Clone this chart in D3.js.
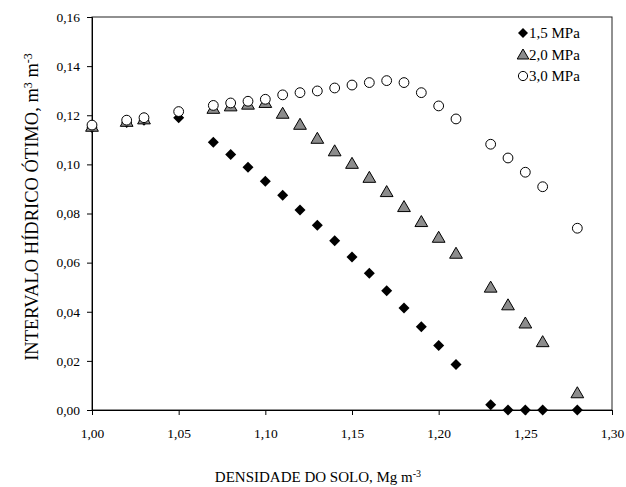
<!DOCTYPE html>
<html>
<head>
<meta charset="utf-8">
<script src="https://cdn.jsdelivr.net/npm/d3@7"></script>
<style>
  body { margin: 0; background: #fff; }
  svg text { font-family: "Liberation Serif", "Times New Roman", serif; fill: #000; }
</style>
</head>
<body>
<svg id="chart" width="626" height="487"></svg>
<script>
// densidade do solo (Mg m-3) de cada ponto
const dens15 = [1.00, 1.02, 1.03, 1.05, 1.07, 1.08, 1.09, 1.10, 1.11, 1.12, 1.13, 1.14, 1.15, 1.16, 1.17, 1.18, 1.19, 1.20, 1.21, 1.23, 1.24, 1.25, 1.26, 1.28];
const iho15 = [0.115, 0.117, 0.118, 0.119, 0.109, 0.104, 0.0988, 0.0931, 0.0874, 0.0814, 0.0752, 0.0689, 0.0623, 0.0557, 0.0486, 0.0415, 0.0339, 0.0263, 0.0185, 0.0021, 0, 0, 0, 0];

const dens20 = [1.00, 1.02, 1.03, 1.07, 1.08, 1.09, 1.10, 1.11, 1.12, 1.13, 1.14, 1.15, 1.16, 1.17, 1.18, 1.19, 1.20, 1.21, 1.23, 1.24, 1.25, 1.26, 1.28];
const iho20 = [0.1155, 0.1175, 0.1185, 0.1228, 0.1238, 0.1245, 0.1252, 0.1208, 0.1163, 0.1106, 0.1055, 0.1004, 0.0947, 0.0889, 0.0828, 0.0767, 0.0703, 0.0638, 0.0500, 0.0428, 0.0354, 0.0278, 0.0070];

const dens30 = [1.00, 1.02, 1.03, 1.05, 1.07, 1.08, 1.09, 1.10, 1.11, 1.12, 1.13, 1.14, 1.15, 1.16, 1.17, 1.18, 1.19, 1.20, 1.21, 1.23, 1.24, 1.25, 1.26, 1.28];
const iho30 = [0.116, 0.118, 0.119, 0.1215, 0.124, 0.125, 0.1257, 0.1265, 0.1283, 0.1292, 0.1299, 0.1311, 0.1323, 0.1333, 0.1341, 0.1333, 0.1292, 0.1238, 0.1185, 0.1082, 0.1026, 0.0968, 0.0909, 0.0740];

const xTicks = [1.00, 1.05, 1.10, 1.15, 1.20, 1.25, 1.30];
const yTicks = [0, 0.02, 0.04, 0.06, 0.08, 0.10, 0.12, 0.14, 0.16];
const seriesNames = ['1,5 MPa', '2,0 MPa', '3,0 MPa'];

const fmt = d => d.toFixed(2).replace('.', ',');

const svg = d3.select('#chart');
const plotL = 92, plotR = 612, plotT = 17, plotB = 410;

const x = d3.scaleLinear().domain([1.0, 1.3]).range([plotL, plotR]);
const y = d3.scaleLinear().domain([0, 0.16]).range([plotB, plotT]);

// moldura
svg.append('rect')
  .attr('x', plotL).attr('y', plotT)
  .attr('width', plotR - plotL).attr('height', plotB - plotT)
  .attr('fill', 'none').attr('stroke', '#222').attr('stroke-width', 1);

// eixos
const xAxis = svg.append('g')
  .attr('transform', `translate(0,${plotB})`)
  .call(d3.axisBottom(x).tickValues(xTicks).tickFormat(fmt).tickSize(5).tickPadding(13));
const yAxis = svg.append('g')
  .attr('transform', `translate(${plotL},0)`)
  .call(d3.axisLeft(y).tickValues(yTicks).tickFormat(fmt).tickSize(5).tickPadding(7));

[xAxis, yAxis].forEach(a => {
  a.select('.domain').attr('stroke', '#000');
  a.selectAll('.tick line').attr('stroke', '#000');
  a.selectAll('text').style('font-size', '13.5px').attr('fill', '#000');
});

// marcadores
const diamond = (cx, cy, r) => `M${cx},${cy - r}L${cx + r},${cy}L${cx},${cy + r}L${cx - r},${cy}Z`;
const triangle = (cx, cy, s) => `M${cx},${cy - s * 0.55}L${cx + s * 0.58},${cy + s * 0.45}L${cx - s * 0.58},${cy + s * 0.45}Z`;

const pts15 = dens15.map((d, i) => [d, iho15[i]]);
const pts20 = dens20.map((d, i) => [d, iho20[i]]);
const pts30 = dens30.map((d, i) => [d, iho30[i]]);

svg.append('g').selectAll('path')
  .data(pts15).enter().append('path')
  .attr('d', d => diamond(x(d[0]), y(d[1]), 5.5))
  .attr('fill', '#000');

svg.append('g').selectAll('path')
  .data(pts20).enter().append('path')
  .attr('d', d => triangle(x(d[0]), y(d[1]), 11))
  .attr('fill', '#8c8c8c').attr('stroke', '#000').attr('stroke-width', 1);

svg.append('g').selectAll('circle')
  .data(pts30).enter().append('circle')
  .attr('cx', d => x(d[0])).attr('cy', d => y(d[1])).attr('r', 4.9)
  .attr('fill', '#fff').attr('stroke', '#000').attr('stroke-width', 1);

// legenda
const legend = svg.append('g').attr('transform', 'translate(523,33)');
const LEG_STEP = 21.5;
legend.append('path').attr('d', diamond(0, 0, 5)).attr('fill', '#000');
legend.append('path').attr('d', triangle(0, LEG_STEP, 10))
  .attr('fill', '#8c8c8c').attr('stroke', '#000');
legend.append('circle').attr('cx', 0).attr('cy', LEG_STEP * 2).attr('r', 4.6)
  .attr('fill', '#fff').attr('stroke', '#000');
legend.selectAll('text')
  .data(seriesNames).enter().append('text')
  .attr('x', 6).attr('y', (d, i) => i * LEG_STEP + 5)
  .style('font-size', '15px')
  .text(d => d);

// títulos dos eixos
const xt = svg.append('text')
  .attr('x', 318).attr('y', 482)
  .attr('text-anchor', 'middle')
  .style('font-size', '15px');
xt.append('tspan').text('DENSIDADE DO SOLO, Mg m');
xt.append('tspan').attr('dy', -5).style('font-size', '10px').text('-3');

const yt = svg.append('text')
  .attr('transform', 'translate(38,207) rotate(-90)')
  .attr('text-anchor', 'middle')
  .style('font-size', '18.5px');
yt.append('tspan').text('INTERVALO HÍDRICO ÓTIMO, m');
yt.append('tspan').attr('dy', -6).style('font-size', '12px').text('3');
yt.append('tspan').attr('dy', 6).text(' m');
yt.append('tspan').attr('dy', -6).style('font-size', '12px').text('-3');
</script>
</body>
</html>
